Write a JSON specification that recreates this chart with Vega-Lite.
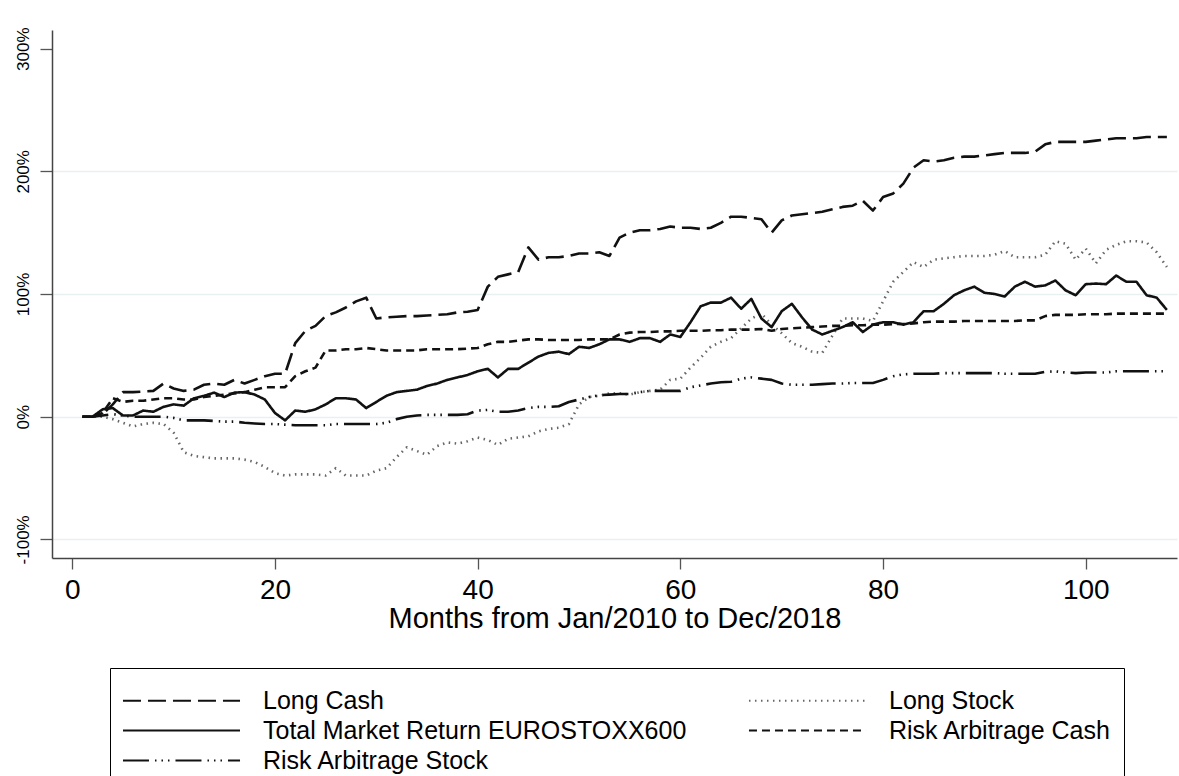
{
  "$schema": "https://vega.github.io/schema/vega-lite/v6.json",
  "width": 1125,
  "height": 528,
  "autosize": {"type": "none"},
  "padding": {"left": 52, "top": 30, "right": 2, "bottom": 218},
  "background": "white",
  "config": {
    "view": {"stroke": null},
    "font": "Liberation Sans"
  },
  "data": {
    "values": [
      {"m": 1, "lc": 0, "ls": 0, "tm": 0, "rc": 0, "rs": 0},
      {"m": 2, "lc": 0, "ls": 0, "tm": 0, "rc": 0, "rs": 0},
      {"m": 3, "lc": 2, "ls": 0, "tm": 6, "rc": 3, "rs": 1},
      {"m": 4, "lc": 10, "ls": -2, "tm": 7, "rc": 15, "rs": 2},
      {"m": 5, "lc": 20, "ls": -5, "tm": 1, "rc": 12, "rs": 1},
      {"m": 6, "lc": 20, "ls": -8, "tm": 1, "rc": 13, "rs": 0},
      {"m": 7, "lc": 20.5, "ls": -6, "tm": 5, "rc": 13, "rs": 0},
      {"m": 8, "lc": 21, "ls": -5, "tm": 4, "rc": 14, "rs": 0},
      {"m": 9, "lc": 27, "ls": -6, "tm": 8, "rc": 15, "rs": 0},
      {"m": 10, "lc": 23, "ls": -13, "tm": 10, "rc": 15, "rs": -1},
      {"m": 11, "lc": 21, "ls": -29, "tm": 9, "rc": 14, "rs": -3},
      {"m": 12, "lc": 22, "ls": -32, "tm": 15, "rc": 14, "rs": -3},
      {"m": 13, "lc": 26, "ls": -33, "tm": 17, "rc": 16, "rs": -3},
      {"m": 14, "lc": 27, "ls": -34, "tm": 19.6, "rc": 17, "rs": -3.5},
      {"m": 15, "lc": 26, "ls": -34, "tm": 16, "rc": 18, "rs": -4},
      {"m": 16, "lc": 30, "ls": -34, "tm": 19.6, "rc": 19, "rs": -4},
      {"m": 17, "lc": 27, "ls": -35, "tm": 20, "rc": 20, "rs": -5},
      {"m": 18, "lc": 30, "ls": -37, "tm": 18, "rc": 22, "rs": -5.5},
      {"m": 19, "lc": 33, "ls": -41, "tm": 14, "rc": 24, "rs": -6},
      {"m": 20, "lc": 35, "ls": -46, "tm": 3, "rc": 24, "rs": -6},
      {"m": 21, "lc": 35, "ls": -48, "tm": -3, "rc": 24, "rs": -6.5},
      {"m": 22, "lc": 60, "ls": -47, "tm": 5, "rc": 33, "rs": -7},
      {"m": 23, "lc": 70, "ls": -47, "tm": 4, "rc": 37, "rs": -7},
      {"m": 24, "lc": 74, "ls": -47, "tm": 6, "rc": 40, "rs": -7},
      {"m": 25, "lc": 82, "ls": -48, "tm": 10, "rc": 54, "rs": -7},
      {"m": 26, "lc": 85, "ls": -42, "tm": 15, "rc": 54, "rs": -6},
      {"m": 27, "lc": 89, "ls": -48, "tm": 15, "rc": 55, "rs": -6},
      {"m": 28, "lc": 94, "ls": -48, "tm": 14, "rc": 55, "rs": -6},
      {"m": 29, "lc": 97, "ls": -48, "tm": 7, "rc": 56, "rs": -6},
      {"m": 30, "lc": 80, "ls": -44, "tm": 12, "rc": 55, "rs": -6},
      {"m": 31, "lc": 81, "ls": -42, "tm": 17, "rc": 54, "rs": -5},
      {"m": 32, "lc": 81.5, "ls": -33, "tm": 20, "rc": 54, "rs": -2},
      {"m": 33, "lc": 82, "ls": -25, "tm": 21, "rc": 54, "rs": 0},
      {"m": 34, "lc": 82, "ls": -28, "tm": 22, "rc": 54, "rs": 1},
      {"m": 35, "lc": 82.5, "ls": -31, "tm": 25, "rc": 55, "rs": 1.5},
      {"m": 36, "lc": 83, "ls": -24, "tm": 27, "rc": 55, "rs": 1.5},
      {"m": 37, "lc": 83.5, "ls": -21, "tm": 30, "rc": 55, "rs": 1.5},
      {"m": 38, "lc": 85, "ls": -22, "tm": 32, "rc": 55, "rs": 1.5},
      {"m": 39, "lc": 85.5, "ls": -20, "tm": 34, "rc": 55.5, "rs": 2},
      {"m": 40, "lc": 87, "ls": -17, "tm": 37, "rc": 56, "rs": 5},
      {"m": 41, "lc": 106, "ls": -19, "tm": 39, "rc": 59, "rs": 5.5},
      {"m": 42, "lc": 114, "ls": -23, "tm": 32, "rc": 61, "rs": 4},
      {"m": 43, "lc": 116, "ls": -18, "tm": 39, "rc": 61, "rs": 4},
      {"m": 44, "lc": 118, "ls": -17, "tm": 39, "rc": 62, "rs": 5},
      {"m": 45, "lc": 138, "ls": -16, "tm": 44, "rc": 63, "rs": 7},
      {"m": 46, "lc": 128, "ls": -12, "tm": 49, "rc": 63, "rs": 8},
      {"m": 47, "lc": 130, "ls": -10, "tm": 52, "rc": 62.5, "rs": 8},
      {"m": 48, "lc": 130, "ls": -9, "tm": 53, "rc": 62.5, "rs": 8.5},
      {"m": 49, "lc": 131, "ls": -6, "tm": 51, "rc": 62.5, "rs": 12},
      {"m": 50, "lc": 133, "ls": 10, "tm": 57, "rc": 62.5, "rs": 14},
      {"m": 51, "lc": 133, "ls": 16, "tm": 56, "rc": 63, "rs": 16},
      {"m": 52, "lc": 134, "ls": 17, "tm": 59, "rc": 63, "rs": 17.5},
      {"m": 53, "lc": 131, "ls": 19, "tm": 63, "rc": 63, "rs": 18},
      {"m": 54, "lc": 146, "ls": 19, "tm": 63, "rc": 67, "rs": 18.5},
      {"m": 55, "lc": 150, "ls": 18, "tm": 61, "rc": 68.5, "rs": 18.5},
      {"m": 56, "lc": 152, "ls": 20, "tm": 64, "rc": 69, "rs": 20},
      {"m": 57, "lc": 152, "ls": 21, "tm": 64, "rc": 69, "rs": 21},
      {"m": 58, "lc": 153, "ls": 22, "tm": 61, "rc": 69.5, "rs": 21},
      {"m": 59, "lc": 155, "ls": 30, "tm": 67, "rc": 69.5, "rs": 21},
      {"m": 60, "lc": 154, "ls": 31, "tm": 65, "rc": 70, "rs": 21},
      {"m": 61, "lc": 154, "ls": 40, "tm": 77, "rc": 70, "rs": 24},
      {"m": 62, "lc": 153, "ls": 48, "tm": 90, "rc": 70, "rs": 25.5},
      {"m": 63, "lc": 154, "ls": 57, "tm": 93, "rc": 70.5, "rs": 27},
      {"m": 64, "lc": 158, "ls": 61, "tm": 93, "rc": 70.5, "rs": 28},
      {"m": 65, "lc": 163, "ls": 64, "tm": 97, "rc": 71, "rs": 28.5},
      {"m": 66, "lc": 163, "ls": 72, "tm": 88, "rc": 71, "rs": 31},
      {"m": 67, "lc": 162, "ls": 80, "tm": 96, "rc": 71, "rs": 32},
      {"m": 68, "lc": 161, "ls": 84, "tm": 80, "rc": 71.5, "rs": 31},
      {"m": 69, "lc": 150, "ls": 75, "tm": 73, "rc": 70, "rs": 30},
      {"m": 70, "lc": 160, "ls": 68, "tm": 86, "rc": 71.5, "rs": 27},
      {"m": 71, "lc": 164, "ls": 60, "tm": 92, "rc": 72, "rs": 26},
      {"m": 72, "lc": 165, "ls": 57, "tm": 81, "rc": 72.5, "rs": 26},
      {"m": 73, "lc": 166, "ls": 53, "tm": 71, "rc": 73, "rs": 26},
      {"m": 74, "lc": 167, "ls": 52, "tm": 67, "rc": 73.5, "rs": 26.5},
      {"m": 75, "lc": 169, "ls": 66, "tm": 70, "rc": 74, "rs": 27},
      {"m": 76, "lc": 171, "ls": 80, "tm": 73, "rc": 74, "rs": 27},
      {"m": 77, "lc": 172, "ls": 80, "tm": 77, "rc": 74.5, "rs": 27.5},
      {"m": 78, "lc": 176, "ls": 80, "tm": 69, "rc": 74.5, "rs": 27.5},
      {"m": 79, "lc": 168, "ls": 78, "tm": 75, "rc": 75, "rs": 27.5},
      {"m": 80, "lc": 179, "ls": 94, "tm": 77, "rc": 75, "rs": 30},
      {"m": 81, "lc": 182, "ls": 110, "tm": 77, "rc": 75.5, "rs": 33},
      {"m": 82, "lc": 190, "ls": 118, "tm": 75, "rc": 75.5, "rs": 34.5},
      {"m": 83, "lc": 203, "ls": 126, "tm": 77, "rc": 76, "rs": 35},
      {"m": 84, "lc": 209, "ls": 122, "tm": 86, "rc": 77, "rs": 35},
      {"m": 85, "lc": 208, "ls": 128, "tm": 86, "rc": 77.5, "rs": 35},
      {"m": 86, "lc": 209, "ls": 129, "tm": 92, "rc": 77.5, "rs": 35.5},
      {"m": 87, "lc": 211, "ls": 130, "tm": 99, "rc": 77.5, "rs": 35.5},
      {"m": 88, "lc": 212, "ls": 131, "tm": 103, "rc": 78, "rs": 35.5},
      {"m": 89, "lc": 212, "ls": 131, "tm": 106, "rc": 78, "rs": 35.5},
      {"m": 90, "lc": 213, "ls": 131, "tm": 101, "rc": 78, "rs": 35.5},
      {"m": 91, "lc": 214, "ls": 132, "tm": 100, "rc": 78, "rs": 35.5},
      {"m": 92, "lc": 215, "ls": 135, "tm": 98, "rc": 78, "rs": 35},
      {"m": 93, "lc": 215, "ls": 130, "tm": 106, "rc": 78, "rs": 35},
      {"m": 94, "lc": 215, "ls": 130, "tm": 110, "rc": 78.5, "rs": 35},
      {"m": 95, "lc": 216, "ls": 130, "tm": 106, "rc": 78.5, "rs": 35},
      {"m": 96, "lc": 222, "ls": 132, "tm": 107, "rc": 82, "rs": 36.5},
      {"m": 97, "lc": 224, "ls": 143, "tm": 111, "rc": 83, "rs": 37},
      {"m": 98, "lc": 224, "ls": 141, "tm": 103, "rc": 83, "rs": 36},
      {"m": 99, "lc": 224, "ls": 128, "tm": 99, "rc": 83, "rs": 35.5},
      {"m": 100, "lc": 224, "ls": 137, "tm": 108, "rc": 83.5, "rs": 36},
      {"m": 101, "lc": 225, "ls": 125, "tm": 108.5, "rc": 83.5, "rs": 36},
      {"m": 102, "lc": 226, "ls": 136, "tm": 108, "rc": 83.5, "rs": 36},
      {"m": 103, "lc": 227, "ls": 140, "tm": 115, "rc": 84, "rs": 37},
      {"m": 104, "lc": 227, "ls": 143, "tm": 110, "rc": 84, "rs": 37},
      {"m": 105, "lc": 227, "ls": 143, "tm": 110, "rc": 84, "rs": 37},
      {"m": 106, "lc": 228, "ls": 142, "tm": 99, "rc": 84, "rs": 37},
      {"m": 107, "lc": 228, "ls": 134, "tm": 97, "rc": 84, "rs": 37},
      {"m": 108, "lc": 228, "ls": 122, "tm": 87, "rc": 84, "rs": 37}
    ]
  },
  "transform": [
    {"fold": ["lc", "ls", "tm", "rc", "rs"], "as": ["series", "ret"]}
  ],
  "mark": {"type": "line", "strokeWidth": 2.6, "strokeCap": "butt", "strokeJoin": "round"},
  "encoding": {
    "x": {
      "field": "m",
      "type": "quantitative",
      "scale": {"domain": [-2, 109], "nice": false, "zero": false},
      "axis": {
        "values": [0, 20, 40, 60, 80, 100],
        "grid": false,
        "title": "Months from Jan/2010 to Dec/2018",
        "titleFontSize": 29,
        "titleFontWeight": "normal",
        "titleColor": "black",
        "titlePadding": 0,
        "labelFontSize": 28,
        "labelColor": "black",
        "labelPadding": 7,
        "labelFlush": false,
        "tickSize": 11,
        "tickColor": "#555555",
        "tickWidth": 1.3,
        "domainColor": "#444444",
        "domainWidth": 1.5
      }
    },
    "y": {
      "field": "ret",
      "type": "quantitative",
      "scale": {"domain": [-115.2, 315.2], "nice": false, "zero": false},
      "axis": {
        "values": [-100, 0, 100, 200, 300],
        "labelExpr": "datum.value + '%'",
        "title": null,
        "labelAngle": -90,
        "labelAlign": "center",
        "labelBaseline": "bottom",
        "labelFontSize": 17,
        "labelColor": "black",
        "labelPadding": 8,
        "labelFlush": false,
        "tickSize": 12,
        "tickColor": "#555555",
        "tickWidth": 1.3,
        "domainColor": "#444444",
        "domainWidth": 1.5,
        "grid": true,
        "gridColor": {"condition": {"test": "datum.value == 300", "value": "white"}, "value": "#e8f0f2"},
        "gridWidth": 1.6
      }
    },
    "strokeDash": {
      "field": "series",
      "type": "nominal",
      "scale": {
        "domain": ["lc", "tm", "rs", "ls", "rc"],
        "range": [[18, 7], [1, 0], [26, 6, 1.5, 5, 1.5, 5, 1.5, 6], [1.5, 4.5], [8, 5]]
      },
      "legend": {
        "title": " ",
        "titleFontSize": 4,
        "titlePadding": 4,
        "orient": "none",
        "legendX": 58,
        "legendY": 638,
        "columns": 2,
        "symbolType": "M-10,0H10",
        "symbolSize": 137,
        "symbolStrokeWidth": 2,
        "symbolOffset": 47,
        "labelOffset": 69,
        "labelFontSize": 25,
        "labelColor": "black",
        "labelLimit": 700,
        "rowPadding": 4,
        "columnPadding": 57,
        "padding": 12,
        "strokeColor": "black",
        "fillColor": "white",
        "labelExpr": "datum.value == 'lc' ? 'Long Cash' : datum.value == 'ls' ? 'Long Stock' : datum.value == 'tm' ? 'Total Market Return EUROSTOXX600' : datum.value == 'rc' ? 'Risk Arbitrage Cash' : 'Risk Arbitrage Stock'"
      }
    },
    "color": {
      "field": "series",
      "type": "nominal",
      "scale": {
        "domain": ["lc", "tm", "rs", "ls", "rc"],
        "range": ["#111111", "#111111", "#111111", "#666666", "#111111"]
      },
      "legend": {
        "title": " ",
        "titleFontSize": 4,
        "titlePadding": 4,
        "orient": "none",
        "legendX": 58,
        "legendY": 638,
        "columns": 2,
        "symbolType": "M-10,0H10",
        "symbolSize": 137,
        "symbolStrokeWidth": 2,
        "symbolOffset": 47,
        "labelOffset": 69,
        "labelFontSize": 25,
        "labelColor": "black",
        "labelLimit": 700,
        "rowPadding": 4,
        "columnPadding": 57,
        "padding": 12,
        "strokeColor": "black",
        "fillColor": "white",
        "labelExpr": "datum.value == 'lc' ? 'Long Cash' : datum.value == 'ls' ? 'Long Stock' : datum.value == 'tm' ? 'Total Market Return EUROSTOXX600' : datum.value == 'rc' ? 'Risk Arbitrage Cash' : 'Risk Arbitrage Stock'"
      }
    }
  }
}
